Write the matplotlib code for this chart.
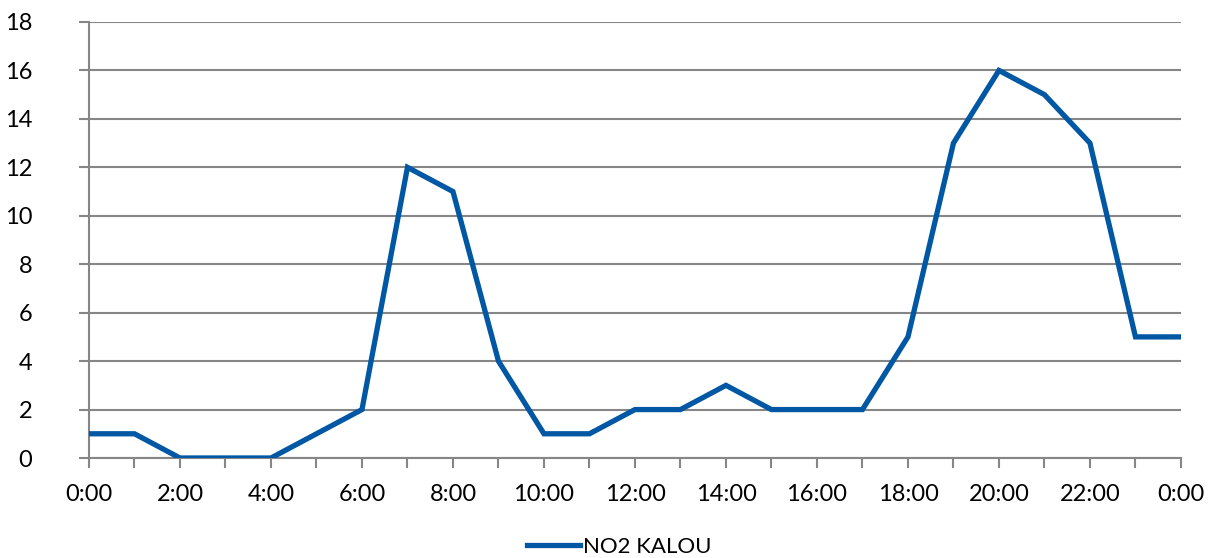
import matplotlib.pyplot as plt

plt.rcParams['font.family'] = ['Lato', 'DejaVu Sans']

hours = list(range(25))
hour_labels = ['%d:00' % (h % 24) if h % 2 == 0 else '' for h in hours]
no2_kalou = [1, 1, 0, 0, 0, 1, 2, 12, 11, 4, 1, 1, 2, 2, 3, 2, 2, 2, 5, 13, 16, 15, 13, 5, 5]
y_ticks = list(range(0, 19, 2))

fig = plt.figure(figsize=(12.09, 5.58), dpi=100)
ax = fig.add_axes([0.0736, 0.1792, 0.9032, 0.7814])

grid_color = '#868686'
for y in y_ticks:
    ax.axhline(y, color=grid_color, lw=1.5, zorder=1)

ax.plot(hours, no2_kalou, color='#0057A4', lw=3.8, solid_joinstyle='miter',
        label='NO2 KALOU', zorder=3)

ax.set_xlim(0, 24)
ax.set_ylim(0, 18)
ax.set_xticks(hours)
ax.set_xticklabels(hour_labels)
ax.set_yticks(y_ticks)

for side in ['top', 'right']:
    ax.spines[side].set_visible(False)
for side in ['left', 'bottom']:
    ax.spines[side].set_color(grid_color)
    ax.spines[side].set_linewidth(1.5)

ax.tick_params(axis='both', color=grid_color, width=1.5, length=7,
               labelsize=17)
ax.tick_params(axis='x', pad=12)
ax.tick_params(axis='y', pad=34)

fig.legend(loc='center', bbox_to_anchor=(0.512, 0.02), frameon=False,
           fontsize=16, handlelength=2.4, handletextpad=0.1,
           borderpad=0, borderaxespad=0)

fig.savefig('out.png', dpi=100)
